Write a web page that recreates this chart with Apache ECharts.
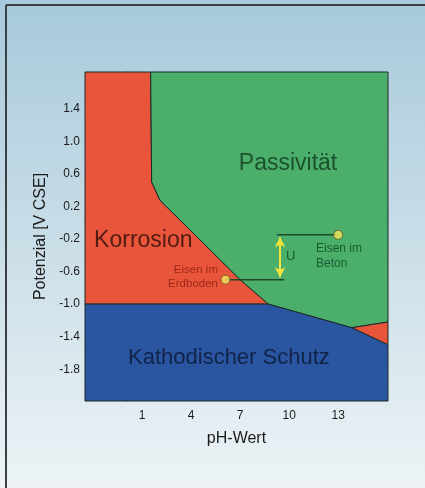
<!DOCTYPE html>
<html><head><meta charset="utf-8">
<script src="https://cdn.jsdelivr.net/npm/echarts@6/dist/echarts.min.js"></script>
<style>html,body{margin:0;padding:0;}#c{width:425px;height:488px;}</style>
</head><body><div id="c"></div>
<script>
// Tick labels
const xTicks = [1, 4, 7, 10, 13];
const yTicks = [1.4, 1.0, 0.6, 0.2, -0.2, -0.6, -1.0, -1.4, -1.8];

// Region boundaries [pH, potential]
const korrosion = [[-2.5, 1.85], [1.52, 1.85], [1.58, 0.50], [2.09, 0.275], [7.0, -0.70], [8.72, -1.0], [-2.5, -1.0]];
const passivitaet = [[1.52, 1.85], [16.05, 1.85], [16.05, -1.22], [13.83, -1.29], [8.72, -1.0], [7.0, -0.70], [2.09, 0.275], [1.58, 0.50]];
const korrosionAlkalisch = [[13.83, -1.29], [16.05, -1.22], [16.05, -1.50]];
const kathodischerSchutz = [[-2.5, -1.0], [8.72, -1.0], [13.83, -1.29], [16.05, -1.50], [16.05, -2.19], [-2.5, -2.19]];

// Measurement points
const pointNames = ['Eisen im Erdboden', 'Eisen im Beton'];
const pointPH = [6.1, 13.0];
const pointE = [-0.70, -0.15];
// Horizontal reference lines from the points
const lineStartPH = [6.1, 9.25];
const lineEndPH = [9.7, 13.0];
// Potential difference arrow U
const arrowPH = 9.44;
const arrowE = [-0.18, -0.67];

const chart = echarts.init(document.getElementById('c'));
const FONT = 'Liberation Sans, Arial, sans-serif';

function poly(pts, color) {
  return {
    type: 'custom', silent: true, z: 1, data: [0],
    renderItem: (params, api) => ({
      type: 'polygon',
      shape: { points: pts.map(p => api.coord(p)) },
      style: { fill: color, stroke: '#1d2a28', lineWidth: 1 }
    })
  };
}

function txt(x, y, text, size, color, align) {
  return {
    value: [x, y],
    label: { show: true, position: 'inside', formatter: text, fontSize: size, color: color,
      fontFamily: FONT, align: align || 'center', verticalAlign: 'middle', lineHeight: Math.round(size * 1.25) }
  };
}

chart.setOption({
  animation: false,
  backgroundColor: new echarts.graphic.LinearGradient(0, 0, 0, 1, [
    { offset: 0, color: '#A7C9DB' }, { offset: 0.5, color: '#CADEE8' }, { offset: 1, color: '#EDF3F6' }
  ]),
  graphic: [
    { type: 'line', shape: { x1: 6, y1: 5, x2: 425, y2: 5 }, style: { stroke: '#3b4044', lineWidth: 2 } },
    { type: 'line', shape: { x1: 6, y1: 5, x2: 6, y2: 488 }, style: { stroke: '#3b4044', lineWidth: 2 } }
  ],
  grid: { left: 85, right: 37, top: 72, bottom: 87 },
  xAxis: {
    type: 'value', min: -2.5, max: 16.05,
    name: 'pH-Wert', nameLocation: 'middle', nameGap: 30,
    nameTextStyle: { fontSize: 16, color: '#1a1a1a', fontFamily: FONT },
    axisLine: { show: true, lineStyle: { color: '#1d2a28', width: 1 } },
    axisTick: { show: true, customValues: xTicks, length: 4, lineStyle: { color: '#1a1a1a', width: 1.5 } },
    axisLabel: { customValues: xTicks, fontSize: 12, color: '#1a1a1a', margin: 9, fontFamily: FONT },
    splitLine: { show: false }
  },
  yAxis: {
    type: 'value', min: -2.19, max: 1.85,
    name: 'Potenzial [V CSE]', nameLocation: 'middle', nameGap: 30, nameRotate: 90,
    nameTextStyle: { fontSize: 16, color: '#1a1a1a', fontFamily: FONT },
    axisLine: { show: true, lineStyle: { color: '#1d2a28', width: 1 } },
    axisTick: { show: true, customValues: yTicks, length: 3, lineStyle: { color: '#1a1a1a', width: 1.5 } },
    axisLabel: { customValues: yTicks, fontSize: 12, color: '#1a1a1a', margin: 5, fontFamily: FONT,
      formatter: v => v.toFixed(1) },
    splitLine: { show: false }
  },
  series: [
    poly(korrosion, '#E8553B'),
    poly(passivitaet, '#4BAE6B'),
    poly(korrosionAlkalisch, '#E8553B'),
    poly(kathodischerSchutz, '#2A55A0'),
    {
      type: 'line', silent: true, z: 3, symbol: 'none',
      lineStyle: { color: '#1b4a2c', width: 1.5 },
      data: [[lineStartPH[0], pointE[0]], [lineEndPH[0], pointE[0]]]
    },
    {
      type: 'line', silent: true, z: 3, symbol: 'none',
      lineStyle: { color: '#1b4a2c', width: 1.5 },
      data: [[lineStartPH[1], pointE[1]], [lineEndPH[1], pointE[1]]],
      markLine: {
        silent: true, symbol: ['arrow', 'arrow'], symbolSize: [8, 10],
        label: { show: false },
        lineStyle: { color: '#F2E33F', width: 2, type: 'solid' },
        data: [[{ coord: [arrowPH, arrowE[0]] }, { coord: [arrowPH, arrowE[1]] }]]
      }
    },
    {
      type: 'scatter', silent: true, z: 4, symbolSize: 9,
      itemStyle: { color: '#F5E65E', borderColor: '#5e5520', borderWidth: 1 },
      data: pointPH.map((p, i) => [p, pointE[i]])
    },
    {
      type: 'scatter', silent: true, z: 5, symbolSize: 0,
      data: [
        txt(9.93, 0.73, 'Passivität', 23, '#0f3a1e'),
        txt(1.07, -0.22, 'Korrosion', 23, '#2a0e08'),
        txt(6.31, -1.66, 'Kathodischer Schutz', 22, '#0b1632'),
        txt(5.64, -0.665, 'Eisen im\nErdboden', 11.5, '#8a1c10', 'right'),
        txt(11.64, -0.41, 'Eisen im\nBeton', 12, '#0d4a24', 'left'),
        txt(10.09, -0.41, 'U', 13, '#0d4a24')
      ]
    }
  ]
});
</script></body></html>
